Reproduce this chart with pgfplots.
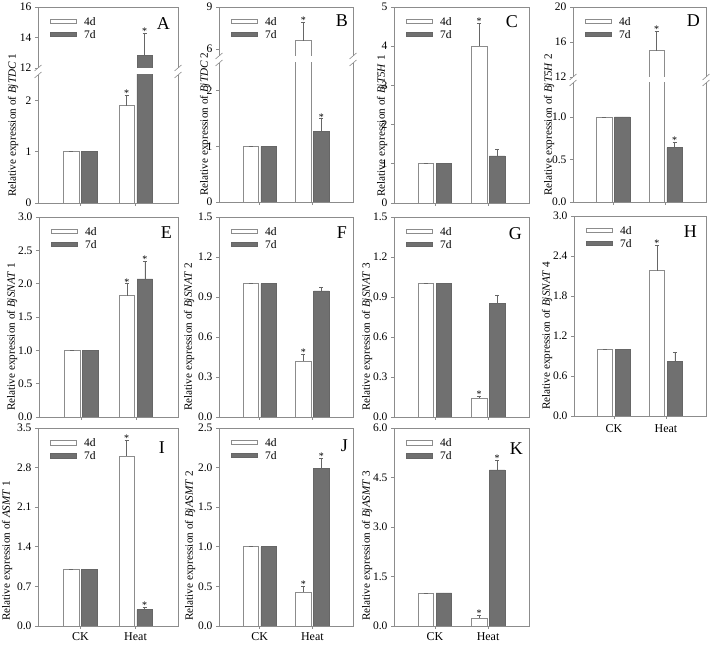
\documentclass[border=0pt]{standalone}
\usepackage{pgfplots}
\pgfplotsset{compat=1.18}
\usepackage{fontspec}
\setmainfont{Liberation Serif}

\definecolor{axgray}{gray}{0.55}
\definecolor{darkbar}{gray}{0.44}
\definecolor{errc}{gray}{0.4}

\pgfplotsset{
  panel/.style={
    scale only axis, anchor=south west,
    xmin=0.23, xmax=2.77, ymin=0,
    ybar, bar width=15.5pt,
    xtick={1,2}, xticklabels={},
    tick align=outside, tick pos=left, major tick length=3pt,
    axis line style={draw=axgray, line width=0.6pt},
    every tick/.style={draw=axgray, line width=0.6pt},
    tick label style={font=\fontsize{11.5}{12}\selectfont},
    /pgf/number format/assume math mode=true,
    every axis y label/.style={rotate=90, anchor=west, inner sep=0pt, font=\fontsize{11.2}{12}\selectfont},
  },
  b4/.style={fill=white, draw=axgray, line width=0.6pt, bar shift=-9pt,
    error bars/.cd, y dir=plus, y explicit,
    error bar style={line width=0.6pt, draw=errc},
    error mark options={rotate=90, line width=0.6pt, mark size=2pt, draw=errc}},
  b7/.style={fill=darkbar, draw=black!60, line width=0.6pt, bar shift=9pt,
    error bars/.cd, y dir=plus, y explicit,
    error bar style={line width=0.6pt, draw=errc},
    error mark options={rotate=90, line width=0.6pt, mark size=2pt, draw=errc}},
  onedec/.style={yticklabel style={/pgf/number format/.cd, fixed, fixed zerofill, precision=1}},
  cat/.style={xticklabels={CK,Heat}, xticklabel style={font=\fontsize{12}{12}\selectfont}},
}
\tikzset{frame/.style={draw=axgray, line width=0.6pt},
  letter/.style={font=\fontsize{18}{18}\selectfont, anchor=north east, inner sep=0pt}}
\newcommand{\sig}[2]{\node[font=\fontsize{10}{10}\selectfont, anchor=base, inner sep=0pt, xshift=#1, yshift=-1.5pt] at (axis cs:2,#2) {*};}
% legend: white and dark patches with labels, at the top left of axis #1
\newcommand{\lgd}[1]{%
  \draw[fill=white, draw=axgray, line width=0.6pt] ([xshift=12pt,yshift=-16.8pt]#1.north west) rectangle ++(26pt,4.6pt);
  \node[anchor=west, inner sep=0pt, font=\fontsize{11.5}{12}\selectfont] at ([xshift=46pt,yshift=-14.5pt]#1.north west) {4d};
  \draw[fill=darkbar, draw=black!60, line width=0.6pt] ([xshift=12pt,yshift=-29.8pt]#1.north west) rectangle ++(26pt,4.6pt);
  \node[anchor=west, inner sep=0pt, font=\fontsize{11.5}{12}\selectfont] at ([xshift=46pt,yshift=-27.5pt]#1.north west) {7d};}

\begin{document}
\begin{tikzpicture}
\useasboundingbox (0,0) rectangle (710pt,648pt);

% ---------------- A ----------------
\begin{axis}[panel, name=Alo, at={(38pt,445pt)}, width=140pt, height=128pt, ymax=2.5, ytick={0,1,2},
  axis line style={draw=none},
  ylabel={Relative expression of \textit{BjTDC} 1}, ylabel style={at={([xshift=-25pt,yshift=6pt]rel axis cs:0,0)}}]
\addplot[b4] coordinates {(1,1) +- (0,0) (2,1.9) +- (0,0.21)};
\addplot[b7] coordinates {(1,1) +- (0,0) (2,12.8) +- (0,1.5)};
\sig{-9pt}{2.11}
\end{axis}
\begin{axis}[panel, name=Aup, at={(38pt,580pt)}, width=140pt, height=61pt, ymin=12, ymax=16, ytick={12,14,16},
  xtick=\empty, axis line style={draw=none}]
\addplot[b7] coordinates {(2,12.8) +- (0,1.5)};
\sig{9pt}{14.3}
\end{axis}

% ---------------- B ----------------
\begin{axis}[panel, name=Blo, at={(219pt,446pt)}, width=134pt, height=139pt, ymax=2.5, ytick={0,1,2},
  axis line style={draw=none},
  ylabel={Relative expression of \textit{BjTDC} 2}, ylabel style={at={([xshift=-14pt,yshift=6pt]rel axis cs:0,0)}}]
\addplot[b4] coordinates {(1,1) +- (0,0) (2,6.6) +- (0,1.3)};
\addplot[b7] coordinates {(1,1) +- (0,0) (2,1.27) +- (0,0.23)};
\sig{9pt}{1.5}
\end{axis}
\begin{axis}[panel, name=Bup, at={(219pt,592pt)}, width=134pt, height=49pt, ymin=5.5, ymax=9, ytick={6,9},
  xtick=\empty, axis line style={draw=none}]
\addplot[b4] coordinates {(2,6.6) +- (0,1.3)};
\sig{-9pt}{7.9}
\end{axis}

% ---------------- C ----------------
\begin{axis}[panel, name=C, at={(394pt,445pt)}, width=135pt, height=196pt, ymax=5, ytick={0,1,2,3,4,5},
  ylabel={Relative expression of \textit{BjT5H} 1}, ylabel style={at={([xshift=-12pt,yshift=6pt]rel axis cs:0,0)}}]
\addplot[b4] coordinates {(1,1) +- (0,0) (2,4.0) +- (0,0.58)};
\addplot[b7] coordinates {(1,1) +- (0,0) (2,1.2) +- (0,0.18)};
\sig{-9pt}{4.58}
\end{axis}

% ---------------- D ----------------
\begin{axis}[panel, onedec, name=Dlo, at={(573pt,446pt)}, width=133pt, height=119pt, ymax=1.4, ytick={0,0.5,1.0},
  axis line style={draw=none},
  ylabel={Relative expression of \textit{BjT5H} 2}, ylabel style={at={([xshift=-24pt,yshift=6pt]rel axis cs:0,0)}}]
\addplot[b4] coordinates {(1,1) +- (0,0) (2,15.0) +- (0,2.2)};
\addplot[b7] coordinates {(1,1) +- (0,0) (2,0.64) +- (0,0.06)};
\sig{9pt}{0.7}
\end{axis}
\begin{axis}[panel, name=Dup, at={(573pt,571pt)}, width=133pt, height=70pt, ymin=12, ymax=20, ytick={12,16,20},
  xtick=\empty, axis line style={draw=none}]
\addplot[b4] coordinates {(2,15.0) +- (0,2.2)};
\sig{-9pt}{17.2}
\end{axis}

% ---------------- E ----------------
\begin{axis}[panel, onedec, name=E, at={(39pt,231pt)}, width=139pt, height=200pt, ymax=3, ytick={0,0.5,1.0,1.5,2.0,2.5,3.0},
  ylabel={Relative expression of \textit{BjSNAT} 1}, ylabel style={at={([xshift=-27pt,yshift=6pt]rel axis cs:0,0)}}]
\addplot[b4] coordinates {(1,1) +- (0,0) (2,1.82) +- (0,0.18)};
\addplot[b7] coordinates {(1,1) +- (0,0) (2,2.07) +- (0,0.27)};
\sig{-9pt}{2.0}
\sig{9pt}{2.34}
\end{axis}

% ---------------- F ----------------
\begin{axis}[panel, onedec, name=F, at={(219pt,231pt)}, width=134pt, height=200pt, ymax=1.5, ytick={0,0.3,0.6,0.9,1.2,1.5},
  ylabel={Relative expression of \textit{BjSNAT} 2}, ylabel style={at={([xshift=-30pt,yshift=6pt]rel axis cs:0,0)}}]
\addplot[b4] coordinates {(1,1) +- (0,0) (2,0.42) +- (0,0.05)};
\addplot[b7] coordinates {(1,1) +- (0,0) (2,0.945) +- (0,0.03)};
\sig{-9pt}{0.47}
\end{axis}

% ---------------- G ----------------
\begin{axis}[panel, onedec, name=G, at={(394pt,231pt)}, width=135pt, height=200pt, ymax=1.5, ytick={0,0.3,0.6,0.9,1.2,1.5},
  ylabel={Relative expression of \textit{BjSNAT} 3}, ylabel style={at={([xshift=-27pt,yshift=6pt]rel axis cs:0,0)}}]
\addplot[b4] coordinates {(1,1) +- (0,0) (2,0.14) +- (0,0.015)};
\addplot[b7] coordinates {(1,1) +- (0,0) (2,0.85) +- (0,0.065)};
\sig{-9pt}{0.155}
\end{axis}

% ---------------- H ----------------
\begin{axis}[panel, onedec, cat, name=H, at={(574pt,232pt)}, width=132pt, height=200pt, ymax=3, ytick={0,0.6,1.2,1.8,2.4,3.0},
  xticklabel style={yshift=-2pt},
  ylabel={Relative expression of \textit{BjSNAT} 4}, ylabel style={at={([xshift=-27pt,yshift=6pt]rel axis cs:0,0)}}]
\addplot[b4] coordinates {(1,1) +- (0,0) (2,2.18) +- (0,0.38)};
\addplot[b7] coordinates {(1,1) +- (0,0) (2,0.82) +- (0,0.13)};
\sig{-9pt}{2.56}
\end{axis}

% ---------------- I ----------------
\begin{axis}[panel, onedec, cat, name=I, at={(38pt,22pt)}, width=140pt, height=198pt, ymax=3.5, ytick={0,0.7,1.4,2.1,2.8,3.5},
  ylabel={Relative expression of \textit{ASMT} 1}, ylabel style={at={([xshift=-31pt,yshift=5pt]rel axis cs:0,0)}}]
\addplot[b4] coordinates {(1,1) +- (0,0) (2,3.0) +- (0,0.28)};
\addplot[b7] coordinates {(1,1) +- (0,0) (2,0.29) +- (0,0.04)};
\sig{-9pt}{3.28}
\sig{9pt}{0.33}
\end{axis}

% ---------------- J ----------------
\begin{axis}[panel, onedec, cat, name=J, at={(219pt,22pt)}, width=134pt, height=198pt, ymax=2.5, ytick={0,0.5,1.0,1.5,2.0,2.5},
  ylabel={Relative expression of \textit{BjASMT} 2}, ylabel style={at={([xshift=-29pt,yshift=5pt]rel axis cs:0,0)}}]
\addplot[b4] coordinates {(1,1) +- (0,0) (2,0.43) +- (0,0.07)};
\addplot[b7] coordinates {(1,1) +- (0,0) (2,1.99) +- (0,0.13)};
\sig{-9pt}{0.5}
\sig{9pt}{2.12}
\end{axis}

% ---------------- K ----------------
\begin{axis}[panel, onedec, cat, name=K, at={(394pt,22pt)}, width=135pt, height=198pt, ymax=6, ytick={0,1.5,3.0,4.5,6.0},
  ylabel={Relative expression of \textit{BjASMT} 3}, ylabel style={at={([xshift=-27pt,yshift=5pt]rel axis cs:0,0)}}]
\addplot[b4] coordinates {(1,1) +- (0,0) (2,0.23) +- (0,0.1)};
\addplot[b7] coordinates {(1,1) +- (0,0) (2,4.73) +- (0,0.3)};
\sig{-9pt}{0.33}
\sig{9pt}{5.03}
\end{axis}

% frames for broken axes
\foreach \u/\l in {Aup/Alo, Bup/Blo, Dup/Dlo}{
  \draw[frame] (\u.south west) -- (\u.north west) -- (\u.north east) -- (\u.south east);
  \draw[frame] (\l.north west) -- (\l.south west) -- (\l.south east) -- (\l.north east);
  \draw[frame] ([xshift=-3.5pt,yshift=-3pt]\u.south west) -- ++(7pt,6pt);
  \draw[frame] ([xshift=-3.5pt,yshift=-3pt]\u.south east) -- ++(7pt,6pt);
  \draw[frame] ([xshift=-3.5pt,yshift=-3pt]\l.north west) -- ++(7pt,6pt);
  \draw[frame] ([xshift=-3.5pt,yshift=-3pt]\l.north east) -- ++(7pt,6pt);
}

% legends
\lgd{Aup}\lgd{Bup}\lgd{C}\lgd{Dup}
\lgd{E}\lgd{F}\lgd{G}\lgd{H}
\lgd{I}\lgd{J}\lgd{K}

% panel letters
\node[letter] at ([xshift=-8pt,yshift=-10pt]Aup.north east) {A};
\node[letter] at ([xshift=-5pt,yshift=-8pt]Bup.north east) {B};
\node[letter] at ([xshift=-11pt,yshift=-8pt]C.north east) {C};
\node[letter] at ([xshift=-6pt,yshift=-8pt]Dup.north east) {D};
\node[letter] at ([xshift=-6pt,yshift=-10pt]E.north east) {E};
\node[letter] at ([xshift=-6pt,yshift=-10pt]F.north east) {F};
\node[letter] at ([xshift=-7pt,yshift=-10pt]G.north east) {G};
\node[letter] at ([xshift=-9pt,yshift=-10pt]H.north east) {H};
\node[letter] at ([xshift=-13pt,yshift=-14pt]I.north east) {I};
\node[letter] at ([xshift=-5pt,yshift=-12pt]J.north east) {J};
\node[letter] at ([xshift=-6pt,yshift=-15pt]K.north east) {K};
\end{tikzpicture}
\end{document}
